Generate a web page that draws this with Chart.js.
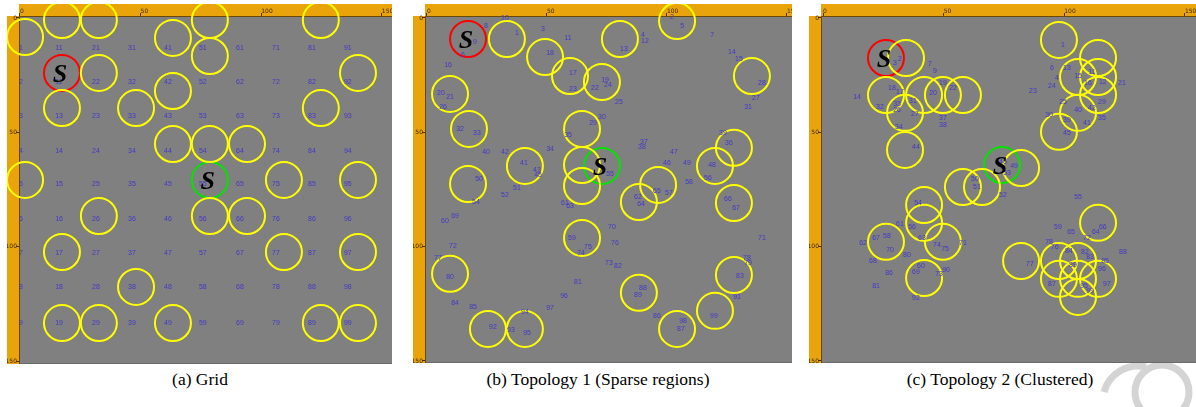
<!DOCTYPE html>
<html>
<head>
<meta charset="utf-8">
<script src="https://cdn.jsdelivr.net/npm/chart.js@4.4.1/dist/chart.umd.min.js"></script>
<style>
  html, body { margin: 0; padding: 0; background: #fff; width: 1196px; height: 407px; overflow: hidden; }
  .panel { position: absolute; }
  .panel canvas { display: block; }
  .cap { position: absolute; top: 369px; line-height: 1; font: 17.5px "Liberation Serif", "Times New Roman", serif;
         color: #000; white-space: nowrap; transform: translateX(-50%); }
  #stamp { position: absolute; left: 1090px; top: 340px; }
</style>
</head>
<body>
<svg id="stamp" width="106" height="67" viewBox="0 0 106 67">
  <path d="M 14 52 A 35 35 0 0 1 56 27" fill="none" stroke="#d4d4d4" stroke-width="7"/>
  <circle cx="72" cy="52" r="27" fill="none" stroke="#d4d4d4" stroke-width="7"/>
</svg>
<div class="panel" style="left:7px;top:4px;width:385px;height:360px"><canvas id="gridChart"></canvas></div>
<div class="panel" style="left:413px;top:4px;width:379px;height:359px"><canvas id="sparseChart"></canvas></div>
<div class="panel" style="left:809px;top:4px;width:387px;height:359px"><canvas id="clusterChart"></canvas></div>
<div class="cap" style="left:200px">(a) Grid</div>
<div class="cap" style="left:598px">(b) Topology 1 (Sparse regions)</div>
<div class="cap" style="left:1000px">(c) Topology 2 (Clustered)</div>

<script>
// ---------- ruler ticks (field units) ----------
const rulerTicks = [0, 50, 100, 150];

// ---------- (a) Grid ----------
const gridX = [0.4, 16.2, 31.5, 46.4, 61.3, 75.8, 91.2, 106.1, 121.0, 135.9];
const gridY = [13.1, 28.0, 42.9, 58.2, 72.6, 87.9, 102.8, 117.6, 133.4];
const gridRingX = [2.1, 17.4, 32.7, 78.7, 124.7, 63.4, 78.7, 32.7, 140.1, 63.4, 17.4, 48.1, 124.7, 63.4, 78.7,
                   94.1, 2.1, 109.4, 140.1, 32.7, 78.7, 94.1, 17.4, 109.4, 140.1, 48.1, 17.4, 32.7, 63.4, 124.7, 140.1];
const gridRingY = [8.3, 0.9, 0.9, 0.9, 0.9, 8.7, 16.6, 24.0, 24.0, 31.9, 39.4, 39.4, 39.4, 55.1, 55.1,
                   55.1, 70.8, 70.8, 70.8, 86.6, 86.6, 86.6, 102.3, 102.3, 102.3, 117.6, 133.4, 133.4, 133.4, 133.4, 133.4];
const gridSource = [17.4, 24.0];
const gridSink = [78.7, 70.8];

// ---------- (b) Topology 1 (sparse regions) ----------
const sparseIds = ['10','8','9','6','1','3','11','16','18','17','23','22','20','21','26','32','33','40','42','34',
  '41','43','45','29','30','35','2','5','4','12','7','13','14','15','28','27','31','19','24','25',
  '37','38','39','36','47','46','49','48','56','55','50','51','52','54','61','63','60','69','72','77',
  '80','84','85','92','93','95','94','97','96','81','59','75','74','58','65','57','62','64','66','67',
  '70','76','71','73','82','78','79','83','91','88','89','86','98','87','99'];
const sparseX = [32.5, 24.6, 20.0, 15.0, 37.5, 48.3, 58.8, 8.8, 51.3, 60.8, 60.8, 70.0, 5.8, 9.6, 6.7, 13.8, 20.8, 24.6, 32.5, 51.3,
  40.4, 45.8, 46.3, 69.2, 72.9, 58.8, 102.1, 106.3, 90.0, 90.8, 118.8, 82.1, 127.1, 130.0, 139.6, 137.1, 133.8, 74.2, 75.4, 80.0,
  90.4, 89.6, 123.3, 125.8, 102.9, 100.0, 108.3, 118.8, 117.1, 76.3, 21.7, 37.5, 32.5, 20.4, 57.5, 59.6, 7.5, 11.7, 10.8, 4.6,
  9.6, 11.7, 19.2, 27.5, 35.0, 41.7, 40.8, 51.3, 57.1, 62.9, 60.4, 67.1, 64.2, 109.2, 95.8, 100.8, 87.9, 89.2, 125.4, 128.8,
  77.1, 78.3, 139.6, 75.8, 79.6, 133.3, 133.8, 130.4, 129.2, 90.0, 87.9, 95.8, 106.7, 105.8, 119.6];
const sparseY = [0.0, 3.5, 10.5, 16.2, 6.6, 4.8, 8.7, 20.6, 15.3, 24.0, 31.0, 30.6, 32.8, 34.5, 38.9, 48.5, 50.3, 58.6, 58.6, 57.3,
  63.4, 66.5, 68.5, 45.9, 43.3, 51.2, -0.4, 3.5, 7.4, 10.1, 7.4, 13.6, 14.9, 17.9, 28.4, 35.0, 38.9, 27.1, 29.3, 36.7,
  54.2, 56.4, 50.3, 54.7, 58.6, 63.4, 63.4, 64.3, 70.0, 68.2, 70.4, 74.3, 77.4, 80.5, 80.9, 82.2, 88.8, 86.6, 99.7, 104.9,
  113.3, 124.6, 126.4, 135.1, 136.4, 137.7, 128.6, 126.8, 121.6, 115.4, 96.2, 100.1, 102.8, 71.7, 75.6, 76.5, 78.3, 81.3, 79.1, 83.1,
  91.4, 98.4, 96.2, 107.1, 108.4, 104.9, 107.1, 112.8, 122.0, 118.1, 121.1, 130.3, 132.5, 136.0, 130.3];
const sparseRingX = [33.3, 49.2, 59.6, 72.9, 80.4, 104.2, 135.4, 9.6, 17.5, 64.6, 40.8, 64.6, 64.6, 17.1, 127.9,
  120.0, 96.3, 88.3, 127.9, 64.6, 9.6, 127.9, 88.3, 120.0, 104.2, 25.4, 40.8];
const sparseRingY = [9.2, 17.1, 25.4, 28.0, 9.2, 1.3, 25.4, 33.2, 48.5, 48.5, 64.7, 64.3, 73.5, 72.6, 56.8,
  64.7, 73.0, 80.5, 80.9, 96.2, 111.9, 112.4, 120.2, 128.1, 136.0, 136.0, 136.0];
const sparseSource = [17.1, 9.2];
const sparseSink = [72.9, 64.7];

// ---------- (c) Topology 2 (clustered) ----------
const clusterIds = ['3','2','7','9','14','18','17','32','33','26','31','27','20','19','22','34','37','38','44',
  '1','6','13','4','24','23','15','11','12','16','21','25','29','40','42','30','39','41','35','45',
  '46','49','53','50','51','52','54','56','61','62','67','58','70','63','74','75','71','80','68','86',
  '60','69','73','90','81','92','55','59','65','64','66','72','78','76','84','82','83','85','88','77',
  '89','87','96','97','95','99'];
const clusterX = [29.8, 31.9, 44.3, 46.4, 14.1, 28.6, 31.9, 23.6, 30.7, 30.7, 37.3, 38.1, 45.6, 49.7, 53.9, 31.5, 49.7, 49.7, 38.5,
  99.5, 94.9, 101.1, 97.0, 94.9, 87.0, 105.7, 111.5, 116.0, 109.8, 123.9, 99.5, 115.6, 105.7, 111.5, 93.7, 101.1, 109.4, 115.6, 101.1,
  74.6, 79.2, 76.3, 63.0, 63.8, 74.6, 39.4, 36.9, 31.9, 16.6, 22.0, 26.5, 27.8, 41.0, 47.2, 50.6, 58.0, 34.8, 20.7, 27.4,
  40.6, 38.5, 48.1, 51.0, 22.0, 38.5, 105.7, 97.4, 102.8, 113.1, 116.0, 109.4, 93.7, 96.1, 101.9, 108.6, 110.7, 116.9, 124.3, 85.8,
  103.6, 94.9, 115.6, 117.7, 108.2, 110.7];
const clusterY = [19.7, 17.9, 20.1, 23.2, 34.5, 30.6, 32.4, 38.9, 37.6, 40.2, 36.3, 42.0, 32.8, 28.4, 30.6, 47.7, 43.7, 46.8, 56.4,
  11.8, 21.9, 21.9, 26.2, 29.7, 31.9, 25.4, 23.6, 28.0, 28.4, 28.4, 36.7, 36.7, 40.2, 39.4, 42.4, 44.6, 45.9, 43.7, 50.3,
  63.0, 64.7, 67.8, 70.4, 73.9, 77.4, 80.9, 91.4, 90.1, 98.4, 96.2, 95.3, 101.4, 96.2, 99.3, 101.0, 98.4, 103.6, 106.3, 111.5,
  108.4, 111.1, 111.9, 110.2, 117.2, 122.4, 78.3, 91.4, 93.6, 93.6, 91.4, 96.2, 97.9, 100.1, 101.9, 102.3, 104.5, 106.3, 102.3, 107.6,
  108.0, 116.3, 109.8, 116.3, 117.2, 119.4];
const clusterRingX = [34.4, 26.1, 41.9, 49.7, 58.0, 34.0, 34.0, 97.8, 114.0, 105.7, 114.0, 114.0, 105.7, 97.8, 82.1,
  58.0, 65.9, 41.9, 41.9, 26.1, 49.7, 41.9, 114.0, 82.1, 97.8, 105.7, 97.8, 105.7, 114.0, 105.7];
const clusterRingY = [17.5, 33.7, 33.7, 33.7, 33.7, 41.5, 57.7, 9.6, 17.5, 25.8, 25.8, 33.7, 41.5, 49.8, 65.6,
  73.9, 73.9, 81.8, 89.6, 97.9, 97.9, 113.7, 89.6, 106.3, 106.3, 106.3, 114.1, 114.1, 114.1, 122.0];
const clusterSource = [26.1, 17.5];
const clusterSink = [74.2, 64.3];

// ---------- drawing helpers ----------
const ORANGE = '#e9a40c';
const FIELD = '#808080';

// Rulers, corner square and the grey field behind everything.
const fieldBackground = {
  id: 'fieldBackground',
  beforeDraw(chart) {
    const { ctx, chartArea: a } = chart;
    ctx.save();
    ctx.fillStyle = ORANGE;
    ctx.fillRect(0, 0, a.left, a.bottom);
    ctx.fillRect(0, 0, a.right, a.top);
    ctx.fillStyle = '#ffffff';
    ctx.fillRect(0, 0, a.left, a.top);
    ctx.fillStyle = FIELD;
    ctx.fillRect(a.left, a.top, a.right - a.left, a.bottom - a.top);
    ctx.fillStyle = '#6a6a6a';
    ctx.fillRect(a.left, a.bottom - 1, a.right - a.left, 1);
    ctx.restore();
  }
};

// Node ids and the "S" marks on the source / sink rings.
const fieldText = {
  id: 'fieldText',
  afterDatasetsDraw(chart) {
    const ctx = chart.ctx;
    chart.data.datasets.forEach((ds, i) => {
      const meta = chart.getDatasetMeta(i);
      if (ds.nodeLabels) {
        ctx.save();
        ctx.font = '7px "Liberation Sans", Arial, sans-serif';
        ctx.fillStyle = '#4338c8';
        ctx.textAlign = 'center';
        ctx.textBaseline = 'middle';
        meta.data.forEach((pt, j) => ctx.fillText(ds.nodeLabels[j], pt.x, pt.y));
        ctx.restore();
      }
      if (ds.mark) {
        ctx.save();
        ctx.font = 'italic bold 26px "Liberation Serif", "Times New Roman", serif';
        ctx.fillStyle = '#000';
        ctx.textAlign = 'center';
        ctx.textBaseline = 'alphabetic';
        meta.data.forEach(pt => ctx.fillText(ds.mark, pt.x - 2, pt.y + 9));
        ctx.restore();
      }
    });
  }
};

const toPoints = (xs, ys) => xs.map((x, i) => ({ x, y: ys[i] }));

function ring(color, xs, ys, extra) {
  return Object.assign({
    data: toPoints(xs, ys),
    pointRadius: 18, pointHoverRadius: 18,
    pointBorderWidth: 2, pointHoverBorderWidth: 2,
    pointBorderColor: color, pointBackgroundColor: 'rgba(0,0,0,0)',
    showLine: false, clip: false
  }, extra || {});
}

// The rulers have a fixed thickness and no extra room for overhanging labels.
function fixRuler(thickness, horizontal) {
  return function (s) {
    if (horizontal) s.height = thickness; else s.width = thickness;
    s.paddingLeft = 0; s.paddingRight = 0; s.paddingTop = 0; s.paddingBottom = 0;
  };
}

function fieldChart(canvasId, xRange, yRange, ids, nx, ny, rx, ry, source, sink) {
  const rulerFont = { size: 6, family: '"DejaVu Sans", Arial, sans-serif' };
  return new Chart(document.getElementById(canvasId), {
    type: 'scatter',
    data: {
      datasets: [
        { label: 'nodes', data: toPoints(nx, ny), nodeLabels: ids, pointRadius: 0, pointHoverRadius: 0, clip: false },
        ring('#ffff00', rx, ry, { label: 'range' }),
        ring('#ff0000', [source[0]], [source[1]], { label: 'source', mark: 'S' }),
        ring('#00e400', [sink[0]], [sink[1]], { label: 'sink', mark: 'S' })
      ]
    },
    options: {
      responsive: true,
      maintainAspectRatio: false,
      animation: false,
      events: [],
      layout: { padding: 0, autoPadding: false },
      plugins: { legend: { display: false }, tooltip: { enabled: false } },
      scales: {
        x: {
          type: 'linear', position: 'top', min: xRange[0], max: xRange[1],
          afterFit: fixRuler(12, true),
          afterBuildTicks(s) { s.ticks = rulerTicks.map(v => ({ value: v })); },
          ticks: { align: 'start', padding: -2, font: rulerFont, color: '#3d2800', maxRotation: 0, autoSkip: false },
          grid: { drawOnChartArea: false, drawTicks: true, tickLength: 3, color: '#4a3200' },
          border: { display: true, color: '#6b4a00', width: 1 }
        },
        y: {
          type: 'linear', position: 'left', reverse: true, min: yRange[0], max: yRange[1],
          afterFit: fixRuler(12, false),
          afterBuildTicks(s) { s.ticks = rulerTicks.map(v => ({ value: v })); },
          ticks: { padding: -1, font: rulerFont, color: '#3d2800', autoSkip: false },
          grid: { drawOnChartArea: false, drawTicks: true, tickLength: 3, color: '#4a3200' },
          border: { display: true, color: '#6b4a00', width: 1 }
        }
      }
    },
    plugins: [fieldBackground, fieldText]
  });
}

fieldChart('gridChart', [-0.41, 154.2], [-0.87, 151.3], (() => {
  const ids = [];
  gridX.forEach((_, c) => gridY.forEach((_, r) => ids.push(String(c * 10 + r + 1))));
  return ids;
})(), gridX.flatMap(x => gridY.map(() => x)), gridX.flatMap(() => gridY),
  gridRingX, gridRingY, gridSource, gridSink);

fieldChart('sparseChart', [-0.83, 152.1], [-0.87, 150.9], sparseIds, sparseX, sparseY,
  sparseRingX, sparseRingY, sparseSource, sparseSink);

fieldChart('clusterChart', [-0.83, 154.6], [-0.87, 150.9], clusterIds, clusterX, clusterY,
  clusterRingX, clusterRingY, clusterSource, clusterSink);
</script>
</body>
</html>
